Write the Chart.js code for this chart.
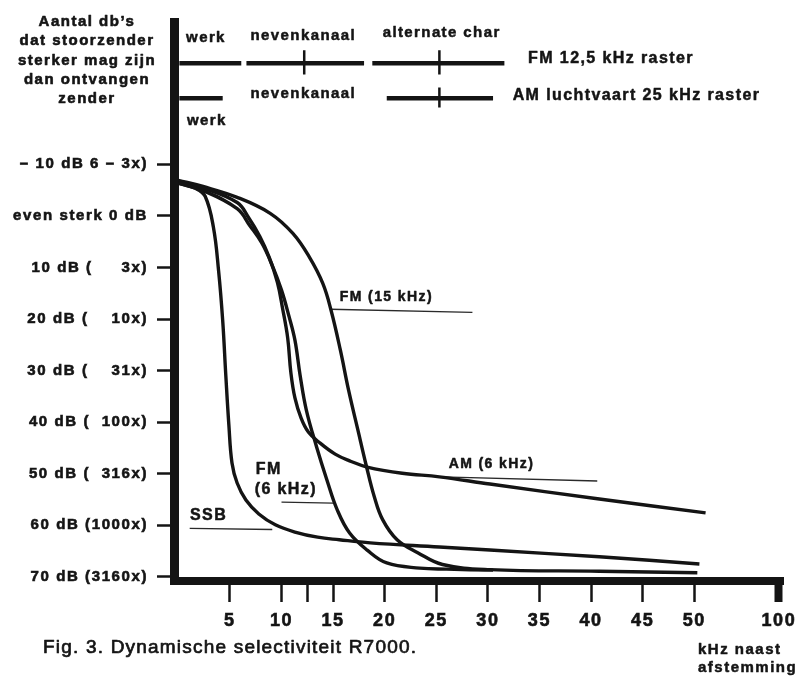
<!DOCTYPE html>
<html>
<head>
<meta charset="utf-8">
<script src="https://cdn.jsdelivr.net/npm/chart.js@4/dist/chart.umd.min.js"></script>
<style>
  html, body { margin: 0; padding: 0; background: #fff; }
</style>
</head>
<body>
<canvas id="chart" width="802" height="676"></canvas>
<script>
// x = kHz naast afstemming, y = dB (axis runs downwards)
const xTickVals = [5, 10, 12.5, 15, 20, 25, 30, 35, 40, 45, 50, 58.2];
const xTickLabels = ['5', '10', '', '15', '20', '25', '30', '35', '40', '45', '50', '100'];
const yTickVals = [-10, 0, 10, 20, 30, 40, 50, 60, 70];
const yTickLabels = [
  '\u2013 10 dB 6 \u2013 3x)', 'even sterk 0 dB', '10 dB (     3x)', '20 dB (    10x)',
  '30 dB (    31x)', '40 dB (  100x)', '50 dB (  316x)', '60 dB (1000x)', '70 dB (3160x)'
];

// selectivity curves
const ssbKhz = [0, 1.7, 2.6, 3.4, 3.9, 4.3, 4.6, 4.9, 5.2, 5.7, 6.55, 7.8, 9.4, 11.3, 13.5, 15.6, 18.6, 25.3, 30.2, 40.8, 50.5];
const ssbDb = [-6.4, -5.3, -3.8, 2.2, 10.6, 20.3, 30.9, 40.6, 47.9, 51.8, 55.1, 57.8, 59.9, 61.3, 62.3, 62.8, 63.4, 64.2, 64.8, 66.1, 67.5];

const fm6Khz = [0, 2.4, 5.7, 6.9, 8.1, 9.1, 10.0, 10.7, 11.3, 11.8, 12.4, 13.4, 14.4, 15.4, 16.6, 18.3, 20.2, 23.4, 26.0, 30.5];
const fm6Db = [-6.3, -4.9, -1.4, 1.8, 5.3, 9.6, 14.4, 19.3, 24.1, 30.9, 37.6, 44.8, 51.2, 57.0, 61.5, 64.8, 67.3, 68.3, 68.5, 68.7];

const am6Khz = [0, 2.4, 5.7, 6.8, 7.9, 8.8, 9.6, 10.1, 10.6, 10.9, 11.3, 11.9, 12.6, 13.7, 15.2, 16.6, 18.3, 21.7, 25.3, 30.2, 40.8, 51.1];
const am6Db = [-6.5, -5.4, -2.6, 0.3, 4.0, 8.0, 12.9, 17.9, 23.7, 30.3, 35.3, 39.2, 41.9, 44.0, 46.2, 47.5, 48.7, 49.9, 50.6, 52.0, 54.9, 57.6];

const fm15Khz = [0, 2.4, 5.7, 8.9, 11.1, 12.7, 14.0, 14.8, 15.7, 16.5, 17.4, 18.2, 19.0, 19.8, 21.2, 23.2, 25.6, 30.2, 40.8, 50.3];
const fm15Db = [-6.9, -5.7, -3.6, -0.5, 3.4, 8.0, 13.1, 18.3, 26.0, 33.8, 41.5, 48.3, 54.5, 58.9, 62.8, 65.3, 67.6, 68.6, 68.9, 69.2];

// channel raster bars at the top (kHz start/end), ticks at channel centres
const fmRasterSegs = [[0.1, 6.1], [6.6, 18.0], [18.8, 31.6]];
const fmRasterDb = -29.6;
const fmRasterTicks = [12.2, 25.3];
const fmTickDb = [-32.1, -27.4];
const amRasterSegs = [[0.1, 4.3], [20.2, 30.5]];
const amRasterDb = -22.8;
const amRasterTicks = [25.3];
const amTickDb = [-24.9, -21.0];

// thin pointer lines from the curve names
const leaderKhz = [[14.7, 28.5], [25.5, 40.6], [10.0, 15.0], [1.1, 9.1]];
const leaderDb = [[18.1, 18.7], [50.6, 51.4], [55.5, 55.7], [60.6, 60.8]];

const INK = '#141414';
const FONT = "'Liberation Sans', Arial, Helvetica, sans-serif";
Chart.defaults.font.family = FONT;

function pts(xs, ys) {
  return xs.map((x, i) => ({ x: x, y: ys[i] }));
}

function curve(label, xs, ys) {
  return {
    label: label,
    data: pts(xs, ys),
    borderColor: INK,
    borderWidth: 3.4,
    pointRadius: 0,
    fill: false,
    tension: 0.4
  };
}

function straight(data, width, color) {
  return { label: '', data: data, borderColor: color, borderWidth: width, pointRadius: 0, fill: false, tension: 0 };
}

const datasets = [
  curve('SSB', ssbKhz, ssbDb),
  curve('FM (6 kHz)', fm6Khz, fm6Db),
  curve('AM (6 kHz)', am6Khz, am6Db),
  curve('FM (15 kHz)', fm15Khz, fm15Db)
];
fmRasterSegs.forEach(s => datasets.push(straight([{ x: s[0], y: fmRasterDb }, { x: s[1], y: fmRasterDb }], 4.5, INK)));
amRasterSegs.forEach(s => datasets.push(straight([{ x: s[0], y: amRasterDb }, { x: s[1], y: amRasterDb }], 4.5, INK)));
fmRasterTicks.forEach(t => datasets.push(straight([{ x: t, y: fmTickDb[0] }, { x: t + 0.001, y: fmTickDb[1] }], 2.5, INK)));
amRasterTicks.forEach(t => datasets.push(straight([{ x: t, y: amTickDb[0] }, { x: t + 0.001, y: amTickDb[1] }], 2.5, INK)));
leaderKhz.forEach((k, i) => datasets.push(straight(pts(k, leaderDb[i]), 1.4, '#2a2a2a')));

// texts inside the plot, placed in kHz / dB
const notes = [
  { text: 'werk', khz: 0.75, db: -34.6, size: 15 },
  { text: 'nevenkanaal', khz: 7.0, db: -35.0, size: 15 },
  { text: 'alternate char', khz: 19.8, db: -35.4, size: 15 },
  { text: 'FM 12,5 kHz raster', khz: 33.9, db: -30.5, size: 16 },
  { text: 'nevenkanaal', khz: 7.0, db: -23.6, size: 15 },
  { text: 'AM luchtvaart 25 kHz raster', khz: 32.4, db: -23.4, size: 16 },
  { text: 'werk', khz: 0.84, db: -18.5, size: 15 },
  { text: 'FM (15 kHz)', khz: 15.65, db: 15.8, size: 14 },
  { text: 'AM (6 kHz)', khz: 26.2, db: 48.1, size: 14 },
  { text: 'FM', khz: 7.5, db: 49.1, size: 16 },
  { text: '(6 kHz)', khz: 7.4, db: 53.0, size: 16 },
  { text: 'SSB', khz: 1.13, db: 58.2, size: 16 }
];
const yTitle = ['Aantal db\u2019s', 'dat stoorzender', 'sterker mag zijn', 'dan ontvangen', 'zender'];

function put(c, text, x, y, stroke) {
  c.lineWidth = stroke;
  c.strokeText(text, x, y);
  c.fillText(text, x, y);
}

const textPlugin = {
  id: 'texts',
  beforeDraw(chart) {
    const c = chart.ctx;
    c.save();
    c.fillStyle = '#fff';
    c.fillRect(0, 0, chart.width, chart.height);
    c.restore();
    c.letterSpacing = '1.6px';
  },
  afterDraw(chart) {
    const c = chart.ctx;
    const xs = chart.scales.x, ys = chart.scales.y;
    c.save();
    c.fillStyle = INK;
    c.strokeStyle = INK;
    c.lineJoin = 'round';
    c.textBaseline = 'middle';
    c.textAlign = 'left';
    c.letterSpacing = '1.4px';
    notes.forEach(n => {
      c.font = 'bold ' + n.size + 'px ' + FONT;
      put(c, n.text, xs.getPixelForValue(n.khz), ys.getPixelForValue(n.db), 0.5);
    });
    c.font = 'bold 15px ' + FONT;
    c.letterSpacing = '1.5px';
    c.textAlign = 'center';
    yTitle.forEach((t, i) => put(c, t, 87, 22 + i * 19.2, 0.6));
    c.textAlign = 'left';
    put(c, 'kHz naast', 698, 650, 0.5);
    put(c, 'afstemming', 698, 668, 0.5);
    c.font = '19px ' + FONT;
    c.letterSpacing = '1.2px';
    put(c, 'Fig. 3. Dynamische selectiviteit R7000.', 43, 648, 0.7);
    c.restore();
  }
};

const chart = new Chart(document.getElementById('chart').getContext('2d'), {
  type: 'line',
  data: { datasets: datasets },
  options: {
    responsive: false,
    animation: false,
    layout: { padding: { top: 22, right: 18, bottom: 0, left: 0 } },
    plugins: { legend: { display: false }, tooltip: { enabled: false } },
    scales: {
      x: {
        type: 'linear',
        min: -0.42,
        max: 58.63,
        afterBuildTicks: s => { s.ticks = xTickVals.map(v => ({ value: v })); },
        afterFit: s => { s.height = 95; },
        ticks: {
          autoSkip: false,
          maxRotation: 0,
          padding: 8,
          color: INK,
          textStrokeColor: INK,
          textStrokeWidth: 0.6,
          font: { size: 18, weight: 'bold' },
          callback: (v, i) => xTickLabels[i]
        },
        grid: {
          drawOnChartArea: false,
          tickLength: 21,
          lineWidth: 1,
          color: INK,
          tickColor: INK,
          tickWidth: c => (c.tick && c.tick.value > 55 ? 8 : 2.5)
        },
        border: { color: INK, width: 8 }
      },
      y: {
        type: 'linear',
        reverse: true,
        min: -37.6,
        max: 70.8,
        afterBuildTicks: s => { s.ticks = yTickVals.map(v => ({ value: v })); },
        afterFit: s => { s.width = 174; },
        ticks: {
          autoSkip: false,
          padding: 9,
          color: INK,
          textStrokeColor: INK,
          textStrokeWidth: 0.6,
          font: { size: 15, weight: 'bold' },
          callback: (v, i) => yTickLabels[i]
        },
        grid: {
          drawOnChartArea: false,
          tickLength: 17,
          lineWidth: 1,
          color: INK,
          tickColor: INK,
          tickWidth: 2.5
        },
        border: { color: INK, width: 9 }
      }
    }
  },
  plugins: [textPlugin]
});
</script>
</body>
</html>
